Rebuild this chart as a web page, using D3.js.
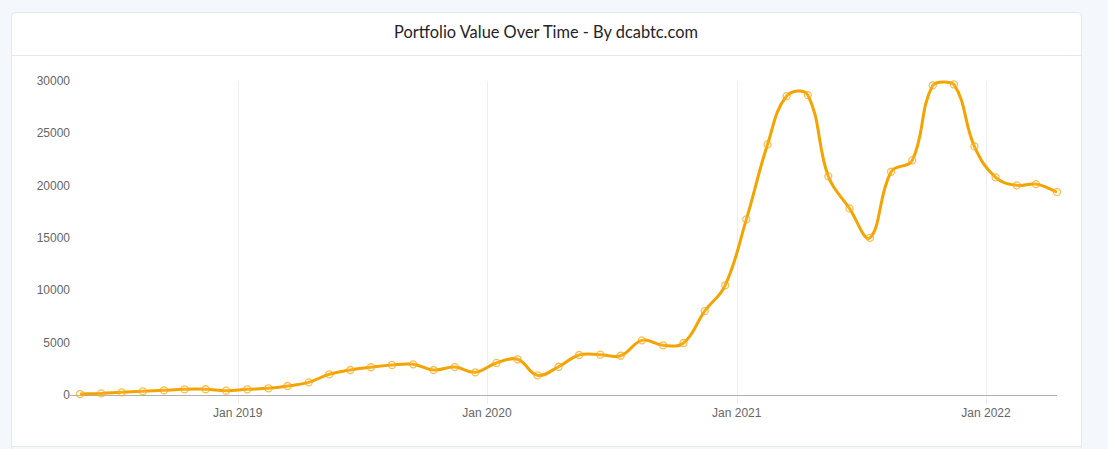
<!DOCTYPE html>
<html>
<head>
<meta charset="utf-8">
<script src="https://cdn.jsdelivr.net/npm/d3@7"></script>
<style>
  body { margin: 0; background: #f4f7fb; }
  svg { display: block; }
</style>
</head>
<body>
<div id="chart"></div>
<script>
// monthly snapshots (15th of each month)
const dates = [
  "2018-05-15","2018-06-15","2018-07-15","2018-08-15","2018-09-15","2018-10-15","2018-11-15","2018-12-15",
  "2019-01-15","2019-02-15","2019-03-15","2019-04-15","2019-05-15","2019-06-15","2019-07-15","2019-08-15",
  "2019-09-15","2019-10-15","2019-11-15","2019-12-15","2020-01-15","2020-02-15","2020-03-15","2020-04-15",
  "2020-05-15","2020-06-15","2020-07-15","2020-08-15","2020-09-15","2020-10-15","2020-11-15","2020-12-15",
  "2021-01-15","2021-02-15","2021-03-15","2021-04-15","2021-05-15","2021-06-15","2021-07-15","2021-08-15",
  "2021-09-15","2021-10-15","2021-11-15","2021-12-15","2022-01-15","2022-02-15","2022-03-15","2022-04-15"
];
const values = [
  90, 150, 260, 350, 450, 545, 550, 410,
  545, 640, 860, 1210, 1980, 2390, 2650, 2870,
  2930, 2390, 2670, 2170, 3060, 3410, 1880, 2700,
  3820, 3850, 3750, 5220, 4750, 4970, 8020, 10480,
  16780, 23940, 28560, 28650, 20890, 17830, 15020, 21330,
  22420, 29580, 29670, 23750, 20790, 20030, 20150, 19390
];
const yTicks = [0, 5000, 10000, 15000, 20000, 25000, 30000];
const xTicks = ["2019-01-01", "2020-01-01", "2021-01-01", "2022-01-01"];

const W = 1108, H = 449;
const plotLeft = 80, plotRight = 1057, plotTop = 81, plotBottom = 395;
const orange = "#f5a300";

const parse = d3.timeParse("%Y-%m-%d");
const data = dates.map((d, i) => ({ date: parse(d), value: values[i] }));

const x = d3.scaleTime()
  .domain(d3.extent(data, d => d.date))
  .range([plotLeft, plotRight]);
const y = d3.scaleLinear()
  .domain([0, 30000])
  .range([plotBottom, plotTop]);

// bezier spline like chart.js (tension 0.4, control points kept inside the plot), as a d3 curve
function SplineCurve(context) { this._context = context; }
SplineCurve.prototype = {
  areaStart() {}, areaEnd() {},
  lineStart() { this._pts = []; },
  point(px, py) { this._pts.push([px, py]); },
  lineEnd() {
    const pts = this._pts, t = 0.4, n = pts.length, ctx = this._context;
    const cap = p => [
      Math.max(plotLeft, Math.min(plotRight, p[0])),
      Math.max(plotTop, Math.min(plotBottom, p[1]))
    ];
    const cps = pts.map((cur, i) => {
      const prev = pts[Math.max(i - 1, 0)], next = pts[Math.min(i + 1, n - 1)];
      const d01 = Math.hypot(cur[0] - prev[0], cur[1] - prev[1]);
      const d12 = Math.hypot(next[0] - cur[0], next[1] - cur[1]);
      let s01 = d01 / (d01 + d12), s12 = d12 / (d01 + d12);
      if (isNaN(s01)) s01 = 0;
      if (isNaN(s12)) s12 = 0;
      const fa = t * s01, fb = t * s12;
      return {
        p: cap([cur[0] - fa * (next[0] - prev[0]), cur[1] - fa * (next[1] - prev[1])]),
        n: cap([cur[0] + fb * (next[0] - prev[0]), cur[1] + fb * (next[1] - prev[1])])
      };
    });
    ctx.moveTo(pts[0][0], pts[0][1]);
    for (let i = 1; i < n; i++) {
      ctx.bezierCurveTo(cps[i - 1].n[0], cps[i - 1].n[1], cps[i].p[0], cps[i].p[1], pts[i][0], pts[i][1]);
    }
  }
};
const splineCurve = ctx => new SplineCurve(ctx);

const svg = d3.select("#chart").append("svg")
  .attr("width", W)
  .attr("height", H);

// card
svg.append("rect")
  .attr("x", 11.5).attr("y", 12.5)
  .attr("width", 1070).attr("height", 450)
  .attr("rx", 4)
  .attr("fill", "#fff")
  .attr("stroke", "#e3e7ee");
svg.append("line")
  .attr("x1", 12).attr("x2", 1081)
  .attr("y1", 55.5).attr("y2", 55.5)
  .attr("stroke", "#e3e7ee");
svg.append("rect")
  .attr("x", 12).attr("y", 446)
  .attr("width", 1069).attr("height", 10)
  .attr("fill", "#f6f8fb");
svg.append("line")
  .attr("x1", 12).attr("x2", 1081)
  .attr("y1", 446.5).attr("y2", 446.5)
  .attr("stroke", "#e3e7ee");

svg.append("text")
  .attr("x", 546).attr("y", 38)
  .attr("text-anchor", "middle")
  .attr("font-family", "Lato, 'Noto Sans', sans-serif")
  .attr("font-size", 16.4)
  .attr("fill", "#1f2329")
  .text("Portfolio Value Over Time - By dcabtc.com");

// vertical grid at year ticks
svg.append("g")
  .selectAll("line")
  .data(xTicks.map(parse))
  .join("line")
    .attr("x1", d => Math.round(x(d)) + 0.5)
    .attr("x2", d => Math.round(x(d)) + 0.5)
    .attr("y1", plotTop)
    .attr("y2", plotBottom + 9)
    .attr("stroke", "#eeeeee");

// x axis line
svg.append("line")
  .attr("x1", plotLeft - 10).attr("x2", plotRight)
  .attr("y1", plotBottom + 0.5).attr("y2", plotBottom + 0.5)
  .attr("stroke", "#b0b0b0");

// tick labels
svg.append("g")
  .selectAll("text")
  .data(yTicks)
  .join("text")
    .attr("x", 70)
    .attr("y", d => y(d) + 4)
    .attr("text-anchor", "end")
    .attr("font-family", "'Liberation Sans', Arial, sans-serif")
    .attr("font-size", 12)
    .attr("fill", "#666")
    .text(d => d);

svg.append("g")
  .selectAll("text")
  .data(xTicks.map(parse))
  .join("text")
    .attr("x", d => x(d))
    .attr("y", plotBottom + 22)
    .attr("text-anchor", "middle")
    .attr("font-family", "'Liberation Sans', Arial, sans-serif")
    .attr("font-size", 12)
    .attr("fill", "#666")
    .text(d3.timeFormat("%b %Y"));

// line
const line = d3.line()
  .x(d => x(d.date))
  .y(d => y(d.value))
  .curve(splineCurve);

svg.append("path")
  .datum(data)
  .attr("d", line)
  .attr("fill", "none")
  .attr("stroke", orange)
  .attr("stroke-width", 3);

// points
svg.append("g")
  .selectAll("circle")
  .data(data)
  .join("circle")
    .attr("cx", d => x(d.date))
    .attr("cy", d => y(d.value))
    .attr("r", 3.5)
    .attr("fill", "rgba(255,255,255,0.1)")
    .attr("stroke", "rgba(245,170,20,0.75)")
    .attr("stroke-width", 1.3);
</script>
</body>
</html>
